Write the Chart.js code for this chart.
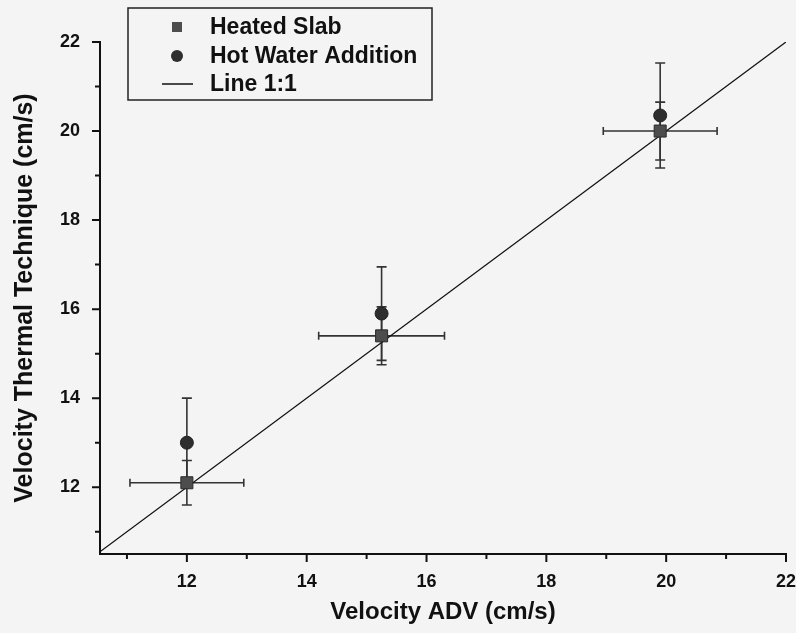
<!DOCTYPE html>
<html>
<head>
<meta charset="utf-8">
<script src="https://cdn.jsdelivr.net/npm/chart.js@4.4.0/dist/chart.umd.min.js"></script>
<style>
  html, body { margin: 0; padding: 0; background: #f4f4f4; }
  canvas { display: block; }
</style>
</head>
<body>
<canvas id="velocityChart" width="796" height="633"></canvas>
<script>
// values (cm/s)
const advVelocity = [12.0, 15.25, 19.9];
const advError = [0.95, 1.05, 0.95];
const slabVelocity = [12.1, 15.4, 20.0];
const slabError = [0.5, 0.65, 0.65];
const waterVelocity = [13.0, 15.9, 20.35];
const waterError = [1.0, 1.05, 1.18];
const lineEnds = [10.5, 22];
const majorTicks = [12, 14, 16, 18, 20, 22];
const minorTicks = [11, 13, 15, 17, 19, 21];
const seriesNames = ['Heated Slab', 'Hot Water Addition', 'Line 1:1'];

const FONT = '"Liberation Sans", Arial, sans-serif';

// error bars, drawn under the markers
const errorBarPlugin = {
    id: 'errorBars',
    beforeDatasetsDraw(chart) {
        const ctx = chart.ctx;
        const xs = chart.scales.x, ys = chart.scales.y;
        ctx.save();
        ctx.strokeStyle = '#333';
        ctx.lineWidth = 1.6;
        function vBar(x, y, err, cap) {
            const px = xs.getPixelForValue(x);
            const top = ys.getPixelForValue(y + err), bot = ys.getPixelForValue(y - err);
            ctx.beginPath();
            ctx.moveTo(px, top); ctx.lineTo(px, bot);
            ctx.moveTo(px - cap, top); ctx.lineTo(px + cap, top);
            ctx.moveTo(px - cap, bot); ctx.lineTo(px + cap, bot);
            ctx.stroke();
        }
        for (let i = 0; i < advVelocity.length; i++) {
            vBar(advVelocity[i], slabVelocity[i], slabError[i], 5);
            vBar(advVelocity[i], waterVelocity[i], waterError[i], 5);
            const py = ys.getPixelForValue(slabVelocity[i]);
            const left = xs.getPixelForValue(advVelocity[i] - advError[i]);
            const right = xs.getPixelForValue(advVelocity[i] + advError[i]);
            ctx.beginPath();
            ctx.moveTo(left, py); ctx.lineTo(right, py);
            ctx.moveTo(left, py - 4); ctx.lineTo(left, py + 4);
            ctx.moveTo(right, py - 4); ctx.lineTo(right, py + 4);
            ctx.stroke();
        }
        ctx.restore();
    }
};

// outward major / minor tick marks
const tickMarkPlugin = {
    id: 'tickMarks',
    afterDraw(chart) {
        const ctx = chart.ctx;
        const xs = chart.scales.x, ys = chart.scales.y;
        const area = chart.chartArea;
        ctx.save();
        ctx.strokeStyle = '#111';
        ctx.lineWidth = 2;
        ctx.beginPath();
        majorTicks.forEach(v => {
            const px = xs.getPixelForValue(v), py = ys.getPixelForValue(v);
            ctx.moveTo(px, area.bottom); ctx.lineTo(px, area.bottom + 8);
            ctx.moveTo(area.left, py); ctx.lineTo(area.left - 8, py);
        });
        minorTicks.forEach(v => {
            const px = xs.getPixelForValue(v), py = ys.getPixelForValue(v);
            ctx.moveTo(px, area.bottom); ctx.lineTo(px, area.bottom + 5);
            ctx.moveTo(area.left, py); ctx.lineTo(area.left - 5, py);
        });
        ctx.stroke();
        ctx.restore();
    }
};

// boxed legend sitting over the top-left corner
const legendBoxPlugin = {
    id: 'legendBox',
    afterDraw(chart) {
        const ctx = chart.ctx;
        const ds = chart.data.datasets;
        ctx.save();
        ctx.fillStyle = '#f4f4f4';
        ctx.fillRect(128, 8, 304, 92);
        ctx.strokeStyle = '#222';
        ctx.lineWidth = 1.5;
        ctx.strokeRect(128, 8, 304, 92);

        const rows = [27, 56, 84];
        ctx.font = 'bold 23px ' + FONT;
        ctx.textBaseline = 'middle';
        rows.forEach((y, i) => {
            ctx.fillStyle = '#111';
            ctx.fillText(seriesNames[i], 210, y + 1);
        });
        // square
        ctx.fillStyle = ds[0].backgroundColor;
        ctx.fillRect(172, rows[0] - 5, 10, 10);
        // circle
        ctx.fillStyle = ds[1].backgroundColor;
        ctx.beginPath();
        ctx.arc(177, rows[1], 6, 0, Math.PI * 2);
        ctx.fill();
        // line
        ctx.strokeStyle = ds[2].borderColor;
        ctx.lineWidth = 1.5;
        ctx.beginPath();
        ctx.moveTo(162, rows[2]); ctx.lineTo(193, rows[2]);
        ctx.stroke();
        ctx.restore();
    }
};

const ctx = document.getElementById('velocityChart').getContext('2d');
const velocityChart = new Chart(ctx, {
    type: 'scatter',
    data: {
        datasets: [{
            label: seriesNames[0],
            data: advVelocity.map((x, i) => ({ x: x, y: slabVelocity[i] })),
            pointStyle: 'rect',
            pointRadius: 8.5,
            backgroundColor: '#4d4d4d',
            borderColor: '#2a2a2a',
            borderWidth: 1
        }, {
            label: seriesNames[1],
            data: advVelocity.map((x, i) => ({ x: x, y: waterVelocity[i] })),
            pointStyle: 'circle',
            pointRadius: 6.5,
            backgroundColor: '#2e2e2e',
            borderColor: '#222',
            borderWidth: 1
        }, {
            type: 'line',
            label: seriesNames[2],
            data: lineEnds.map(v => ({ x: v, y: v })),
            borderColor: '#111',
            borderWidth: 1.3,
            pointRadius: 0,
            fill: false
        }]
    },
    options: {
        responsive: false,
        animation: false,
        layout: { padding: { top: 42, right: 10, left: 0, bottom: 0 } },
        plugins: {
            legend: { display: false },
            tooltip: { enabled: false }
        },
        scales: {
            x: {
                type: 'linear',
                min: 10.55,
                max: 22,
                grid: { display: false, drawTicks: false },
                border: { display: true, color: '#111', width: 2 },
                ticks: {
                    padding: 17,
                    color: '#111',
                    font: { family: FONT, size: 18, weight: 'bold' }
                },
                afterBuildTicks: scale => { scale.ticks = majorTicks.map(v => ({ value: v })); },
                afterFit: scale => {
                    scale.height = 79;
                    scale.paddingLeft = 0;
                    scale.paddingRight = 0;
                },
                title: {
                    display: true,
                    text: 'Velocity ADV (cm/s)',
                    color: '#111',
                    font: { family: FONT, size: 24, weight: 'bold' },
                    padding: { top: 0, bottom: 6 }
                }
            },
            y: {
                type: 'linear',
                min: 10.5,
                max: 22,
                grid: { display: false, drawTicks: false },
                border: { display: true, color: '#111', width: 2 },
                ticks: {
                    padding: 20,
                    color: '#111',
                    font: { family: FONT, size: 18, weight: 'bold' }
                },
                afterBuildTicks: scale => { scale.ticks = majorTicks.map(v => ({ value: v })); },
                afterFit: scale => {
                    scale.width = 100;
                    scale.paddingTop = 0;
                    scale.paddingBottom = 0;
                },
                title: {
                    display: true,
                    text: 'Velocity Thermal Technique (cm/s)',
                    color: '#111',
                    font: { family: FONT, size: 25, weight: 'bold' },
                    padding: { top: 10, bottom: 0 }
                }
            }
        }
    },
    plugins: [errorBarPlugin, tickMarkPlugin, legendBoxPlugin]
});
</script>
</body>
</html>
